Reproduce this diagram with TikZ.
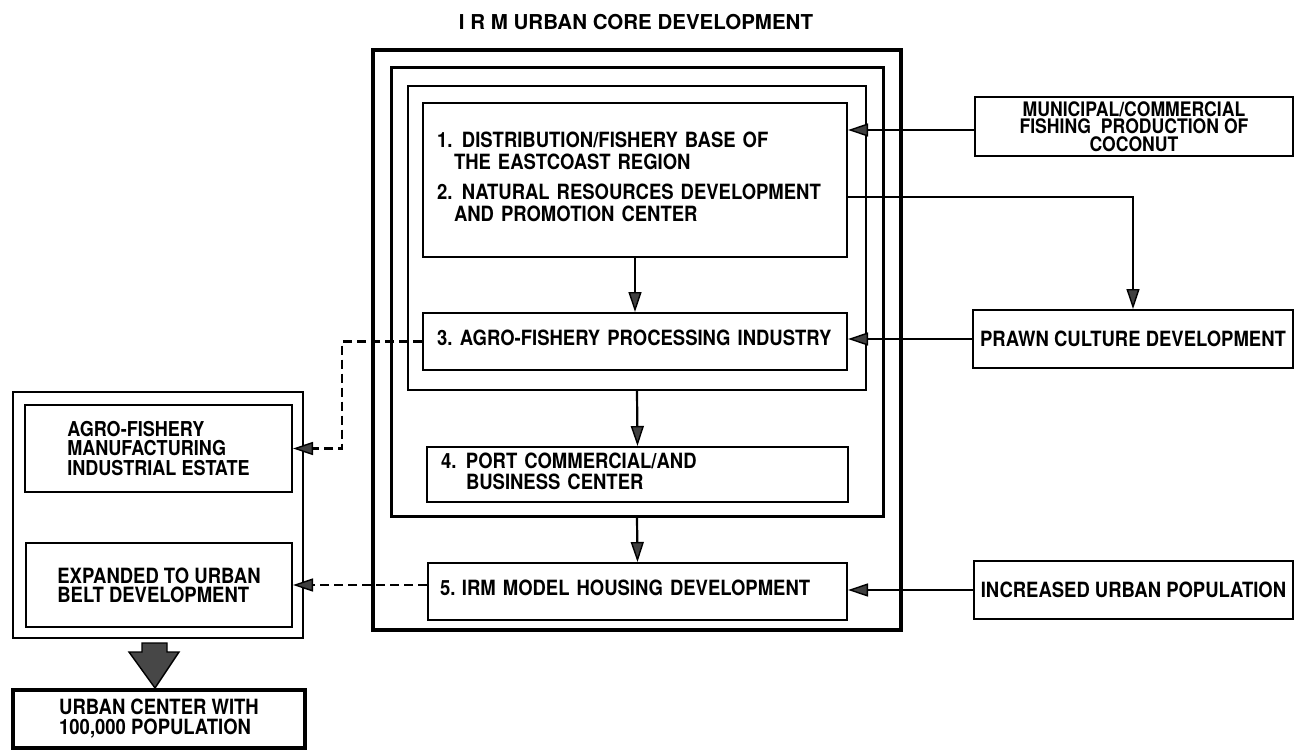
\documentclass[tikz,border=0pt]{standalone}
\usepackage{fontspec}
\setmainfont{TeX Gyre Heros}[FakeStretch=0.88]
\newfontfamily\titlefont{TeX Gyre Heros}
\usetikzlibrary{arrows.meta}
\tikzset{
  lbl/.style={font=\fontsize{21}{22}\selectfont\bfseries},
  box/.style={draw, line width=2pt, inner sep=0pt, lbl},
  numbox/.style={box, text width=#1, align=left, inner xsep=14pt},
  frame/.style={draw, line width=#1, inner sep=0pt},
  arr/.style={line width=2.2pt, -{Triangle[length=20pt,width=13pt,fill=black!75,line width=1.4pt]}},
  dasharr/.style={arr, dash pattern=on 9pt off 5pt},
}
\begin{document}
\begin{tikzpicture}[x=1pt,y=-1pt]
\useasboundingbox[fill=white] (0,0) rectangle (1295,751);

% title
\node[font=\titlefont\fontsize{20.5}{22}\selectfont\bfseries] (title) at (636,22) {I R M URBAN CORE DEVELOPMENT};

% frames of the core
\node[frame=4pt, minimum width=528pt, minimum height=580pt] (frame1) at (637,340) {};
\node[frame=3pt, minimum width=492pt, minimum height=448pt] (frame2) at (637,292) {};
\node[frame=2.4pt, minimum width=458pt, minimum height=304pt] (frame3) at (637,238) {};

% core boxes
\node[numbox=396pt, minimum width=424pt, minimum height=154pt] (box1) at (635,180)
 {\begin{tabular}{@{}p{25pt}@{}l@{}}
  1. & DISTRIBUTION/FISHERY BASE OF\\
     & \hspace{-8pt}THE EASTCOAST REGION\\[8pt]
  2. & NATURAL RESOURCES DEVELOPMENT\\
     & \hspace{-8pt}AND PROMOTION CENTER
  \end{tabular}};
\node[numbox=396pt, minimum width=424pt, minimum height=57pt] (box3) at (635,341.5)
 {\begin{tabular}{@{}p{23pt}@{}l@{}}
  3. & AGRO-FISHERY PROCESSING INDUSTRY
  \end{tabular}};
\node[numbox=393pt, minimum width=421pt, minimum height=55pt] (box4) at (637.5,474.5)
 {\begin{tabular}{@{}p{25pt}@{}l@{}}
  4. & PORT COMMERCIAL/AND\\[-2pt]
     & BUSINESS CENTER
  \end{tabular}};
\node[numbox=395pt, minimum width=419pt, minimum height=57pt, inner xsep=12pt] (box5) at (637.5,591.5)
 {\begin{tabular}{@{}p{22pt}@{}l@{}}
  5. & IRM MODEL HOUSING DEVELOPMENT
  \end{tabular}};

% right boxes
\node[box, minimum width=318pt, minimum height=59pt, align=center,
      font=\fontsize{20}{17.5}\selectfont\bfseries] (muni) at (1134,126.5)
 {MUNICIPAL/COMMERCIAL\\FISHING\ \ PRODUCTION OF\\COCONUT};
\node[box, minimum width=320pt, minimum height=58pt] (prawn) at (1133,339) {PRAWN CULTURE DEVELOPMENT};
\node[box, minimum width=319pt, minimum height=58pt] (incr) at (1133.5,590) {INCREASED URBAN POPULATION};

% left boxes
\node[frame=2.4pt, minimum width=290pt, minimum height=246pt] (leftframe) at (158,515) {};
\node[box, minimum width=267pt, minimum height=87pt, align=left,
      font=\fontsize{20.5}{19.5}\selectfont\bfseries] (boxA) at (158.5,448.5)
 {AGRO-FISHERY\\MANUFACTURING\\INDUSTRIAL ESTATE};
\node[box, minimum width=266pt, minimum height=84pt, align=left,
      font=\fontsize{21}{19}\selectfont\bfseries] (boxB) at (159,585)
 {EXPANDED TO URBAN\\BELT DEVELOPMENT};
\node[box, line width=3.6pt, minimum width=292pt, minimum height=58pt, align=left,
      font=\fontsize{21}{20}\selectfont\bfseries] (urban) at (159,719)
 {URBAN CENTER WITH\\100,000 POPULATION};

% big block arrow
\draw[line width=1.4pt, fill=black!72, line join=miter]
  (142,643) -- (167,643) -- (167,652) -- (179,652) -- (155,688) -- (129,652) -- (142,652) -- cycle;

% connectors
\draw[arr] (box1.south) -- (box3.north);
\draw[arr] (frame3.south) -- (box4.north);
\draw[arr] (frame2.south) -- (box5.north);
\draw[arr] ([yshift=-3.5pt]muni.west) -- ([yshift=-3.5pt]muni.west -| box1.east);
\draw[arr, line width=2.6pt] ([yshift=-17pt]box1.east) -| (prawn.north);
\draw[arr] (prawn.west) -- (prawn.west -| box3.east);
\draw[arr] (incr.west) -- (incr.west -| box5.east);

\coordinate (dj) at (342,448.5);
\draw[dasharr] (box3.west) -| (dj) -- (boxA.east);
\draw[dasharr] (box5.west |- boxB.east) -- (boxB.east);
\end{tikzpicture}
\end{document}
